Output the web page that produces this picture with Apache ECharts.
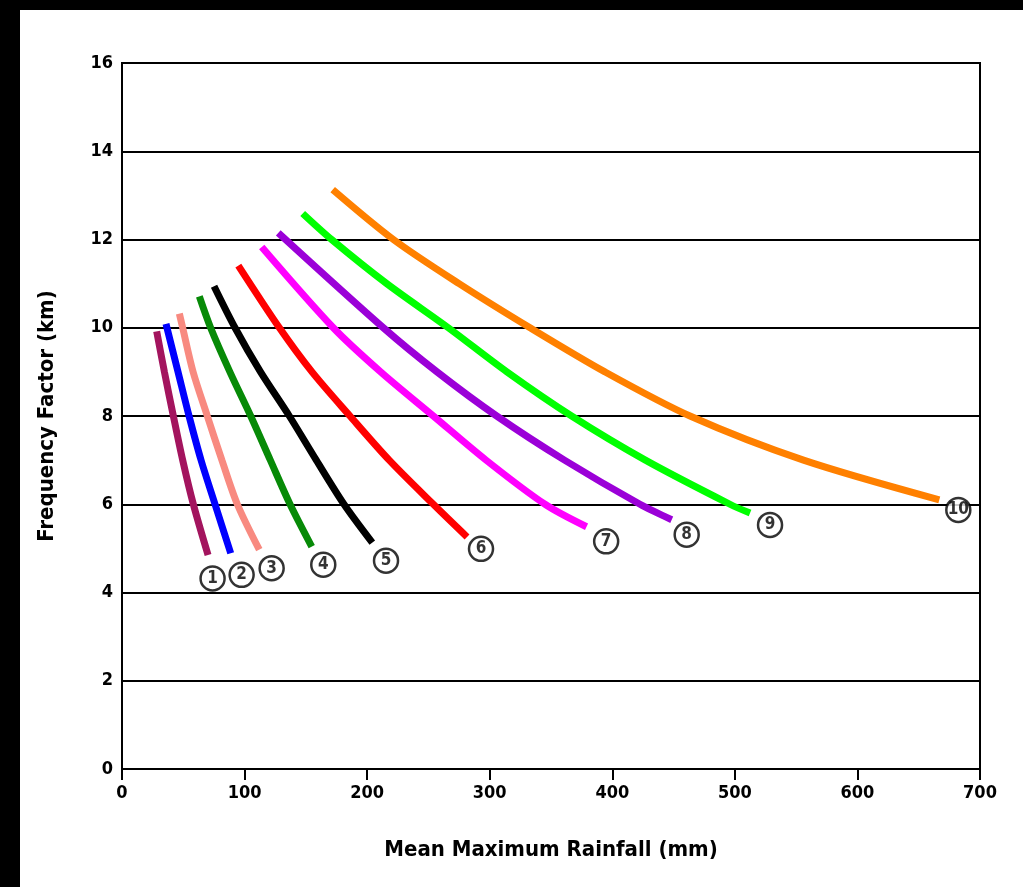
<!DOCTYPE html>
<html>
<head>
<meta charset="utf-8">
<script src="https://cdn.jsdelivr.net/npm/echarts@6/dist/echarts.min.js"></script>
<style>
html,body{margin:0;padding:0;background:#000;width:1023px;height:887px;overflow:hidden;}
#chart{position:absolute;left:20px;top:10px;width:1003px;height:877px;background:#fff;}
</style>
</head>
<body>
<div id="chart"></div>
<script>
// Curve data [rainfall (mm), frequency factor]
const curve1 = [[28.3,9.92],[34.6,9],[41.9,8],[49.5,7],[58.2,6],[70.2,4.85]];
const curve2 = [[35.9,10.09],[45.7,9],[54.7,8],[64.5,7],[75.9,6],[88.7,4.89]];
const curve3 = [[46.8,10.32],[49.5,10],[58,9],[69.6,8],[81.5,7],[94.1,6],[112,4.97]];
const curve4 = [[63.1,10.71],[72.3,10],[88,9],[105,8],[121,7],[137.1,6],[154.8,5.04]];
const curve5 = [[75.1,10.94],[92.2,10],[113,9],[136.5,8],[158.5,7],[181.1,6],[204.2,5.13]];
const curve6 = [[94.9,11.41],[128.4,10],[155,9],[186,8],[218,7],[254,6],[281.5,5.26]];
const curve7 = [[114,11.83],[172.4,10],[211,9],[254,8],[297,7],[345.1,6],[379,5.49]];
const curve8 = [[127.5,12.15],[213.2,10],[257,9],[305.7,8],[361,7],[422.6,6],[448.5,5.65]];
const curve9 = [[147.4,12.59],[171,12],[216,11],[266.2,10],[314,9],[366.8,8],[427,7],[496,6],[512.4,5.8]];
const curve10 = [[171.9,13.13],[221.4,12],[275,11],[332.9,10],[394,9],[463.4,8],[556,7],[666.8,6.1]];
const curves = [curve1,curve2,curve3,curve4,curve5,curve6,curve7,curve8,curve9,curve10];
const curveColors = ['#A3145E','#0000FF','#F88A80','#078A07','#000000','#FF0000','#FF00FF','#9B00D8','#00FF00','#FF8000'];

// Circled curve labels
const labelX = [73.9,97.6,122.1,164.2,215.4,292.9,395,460.7,528.7,682.3];
const labelY = [4.32,4.40,4.55,4.63,4.72,4.99,5.16,5.31,5.53,5.87];
const labelText = ['1','2','3','4','5','6','7','8','9','10'];

const xTicks = [0,100,200,300,400,500,600,700];
const yTicks = [0,2,4,6,8,10,12,14,16];

const font = '"DejaVu Sans Condensed", "DejaVu Sans", sans-serif';
const chart = echarts.init(document.getElementById('chart'));

const series = curves.map((c,i)=>({
  type:'line', data:c, smooth:0.3, showSymbol:false,
  lineStyle:{color:curveColors[i], width:7, cap:'butt'}, z:3, silent:true
}));
series.push({
  type:'scatter', z:5,
  data: labelX.map((x,i)=>[x,labelY[i],labelText[i]]),
  symbol:'circle', symbolSize:24,
  itemStyle:{color:'#fff', borderColor:'#000', borderWidth:2.5},
  label:{show:true, position:'inside', formatter:p=>p.data[2], color:'#000',
    fontFamily:font, fontWeight:'bold', fontSize:17}
});

chart.setOption({
  animation:false,
  backgroundColor:'#fff',
  grid:{left:102, right:43, top:53, bottom:118, show:true, borderColor:'#000', borderWidth:2, backgroundColor:'transparent'},
  xAxis:{
    type:'value', min:xTicks[0], max:xTicks[xTicks.length-1], interval:100,
    name:'Mean Maximum Rainfall (mm)', nameLocation:'middle', nameGap:70,
    nameTextStyle:{fontFamily:font, fontWeight:'bold', fontSize:22, color:'#000'},
    axisLine:{show:true, lineStyle:{color:'#000', width:2}},
    axisTick:{show:true, length:11, lineStyle:{color:'#000', width:2}},
    axisLabel:{fontFamily:font, fontWeight:'bold', fontSize:18, color:'#000', margin:15},
    splitLine:{show:false}
  },
  yAxis:{
    type:'value', min:yTicks[0], max:yTicks[yTicks.length-1], interval:2,
    name:'Frequency Factor (km)', nameLocation:'middle', nameGap:64, nameRotate:90,
    nameTextStyle:{fontFamily:font, fontWeight:'bold', fontSize:22, color:'#000'},
    axisLine:{show:true, lineStyle:{color:'#000', width:2}},
    axisTick:{show:false},
    axisLabel:{fontFamily:font, fontWeight:'bold', fontSize:18, color:'#000', margin:9},
    splitLine:{show:true, lineStyle:{color:'#000', width:2}}
  },
  series: series
});
</script>
</body>
</html>
